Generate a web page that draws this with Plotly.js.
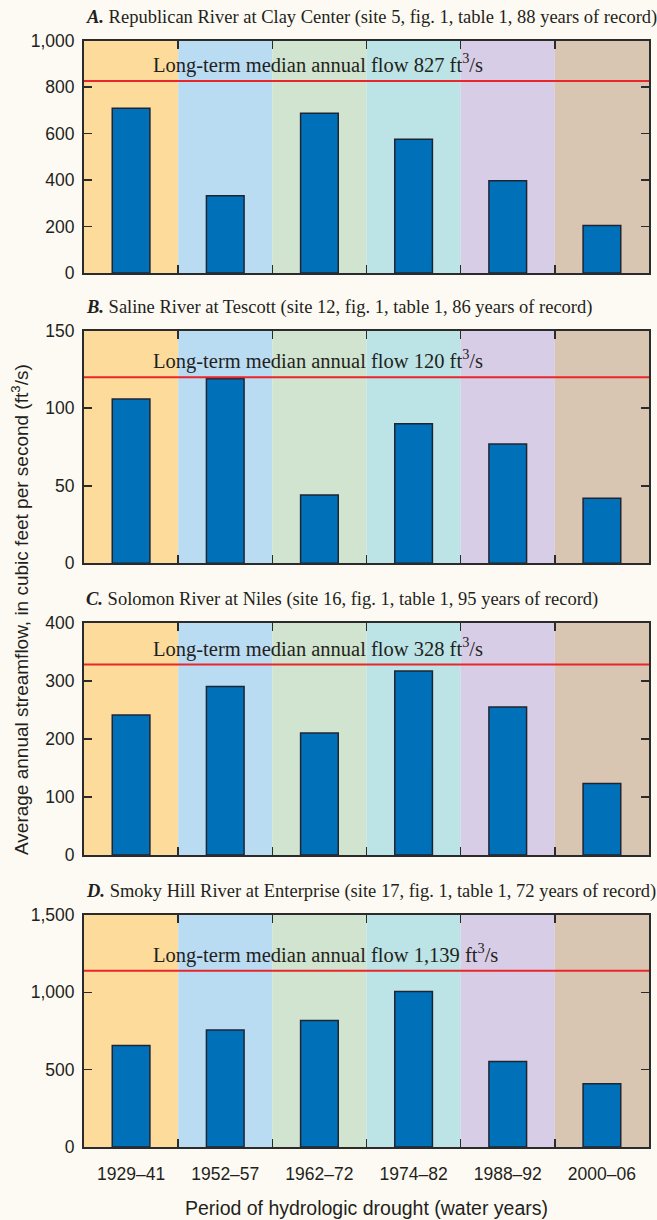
<!DOCTYPE html>
<html>
<head>
<meta charset="utf-8">
<script src="https://cdn.plot.ly/plotly-3.0.1.min.js"></script>
<style>html,body{margin:0;padding:0;background:#fdfaf3;}</style>
</head>
<body>
<div id="chart" style="width:657px;height:1220px;"></div>
<script>
// ---- data ----
const periods = ["1929–41", "1952–57", "1962–72", "1974–82", "1988–92", "2000–06"];
const republican = [709, 333, 688, 576, 397, 205];
const saline = [106, 119, 44, 90, 77, 42];
const solomon = [241, 290, 210, 317, 255, 123];
const smokyHill = [656, 757, 818, 1005, 553, 409];
const medians = [827, 120, 328, 1139];
const medianLabels = ["827", "120", "328", "1,139"];
const yMax = [1000, 150, 400, 1500];
const yStep = [200, 50, 100, 500];
const panelLetters = ["A.", "B.", "C.", "D."];
const panelTitles = [
  "Republican River at Clay Center (site 5, fig. 1, table 1, 88 years of record)",
  "Saline River at Tescott (site 12, fig. 1, table 1, 86 years of record)",
  "Solomon River at Niles (site 16, fig. 1, table 1, 95 years of record)",
  "Smoky Hill River at Enterprise (site 17, fig. 1, table 1, 72 years of record)"
];
const bandColors = ["#fddc9b", "#badcf3", "#d1e4cf", "#bce3e5", "#d8cde6", "#d8c5b2"];
const series = [republican, saline, solomon, smokyHill];

// ---- layout geometry (pixel top/bottom of each plot) ----
const H = 1220;
const plotPx = [[40.7, 273], [330.7, 563.3], [622.7, 855], [915, 1147]];

const traces = [];
const shapes = [];
const annotations = [];
const sansFamily = "Liberation Sans, Arial, sans-serif";
const serifFamily = "Liberation Serif, Times New Roman, serif";
const layout = {
  width: 657, height: H,
  margin: {l: 84, r: 8, t: 0, b: 0},
  paper_bgcolor: "#fdfaf3",
  plot_bgcolor: "#fdfaf3",
  showlegend: false,
  font: {family: sansFamily, color: "#231f20"}
};

const tickFont = {family: sansFamily, size: 17.5, color: "#231f20"};

series.forEach((vals, i) => {
  const n = i + 1;
  const xa = n === 1 ? "x" : "x" + n;
  const ya = n === 1 ? "y" : "y" + n;
  const xKey = n === 1 ? "xaxis" : "xaxis" + n;
  const yKey = n === 1 ? "yaxis" : "yaxis" + n;
  const dom = [1 - plotPx[i][1] / H, 1 - plotPx[i][0] / H];

  traces.push({
    type: "bar", x: periods, y: vals, xaxis: xa, yaxis: ya,
    width: 0.4,
    marker: {color: "#0071b9", line: {color: "#1f2433", width: 1.5}},
    hoverinfo: "x+y"
  });

  layout[xKey] = {
    domain: [0, 1], anchor: ya,
    type: "category",
    categoryarray: periods,
    range: [-0.5, 5.5],
    showline: true, linecolor: "#2b2b2b", linewidth: 2, mirror: "ticks",
    ticks: "inside", ticklen: 8, tickwidth: 1.5, tickcolor: "#2b2b2b",
    tickson: "boundaries",
    showgrid: false, zeroline: false,
    showticklabels: n === 4,
    ticklabelstandoff: 10,
    tickfont: {family: sansFamily, size: 17.5, color: "#231f20"}
  };
  if (n === 4) {
    layout[xKey].title = {
      text: "Period of hydrologic drought (water years)",
      font: {family: sansFamily, size: 19.5, color: "#231f20"},
      standoff: 18
    };
  }
  layout[yKey] = {
    domain: dom, anchor: xa,
    range: [0, yMax[i]],
    dtick: yStep[i], tick0: 0,
    tickformat: ",d",
    showline: true, linecolor: "#2b2b2b", linewidth: 2, mirror: "ticks",
    ticks: "inside", ticklen: 8, tickwidth: 1.5, tickcolor: "#2b2b2b",
    showgrid: false, zeroline: false,
    ticklabelstandoff: 4,
    tickfont: tickFont
  };

  // background bands
  periods.forEach((p, k) => {
    shapes.push({
      type: "rect", xref: xa, yref: ya + " domain",
      x0: k - 0.5, x1: k + 0.5, y0: 0, y1: 1,
      fillcolor: bandColors[k], line: {width: 0}, layer: "below"
    });
  });
  // median line
  shapes.push({
    type: "line", xref: xa + " domain", yref: ya,
    x0: 0, x1: 1, y0: medians[i], y1: medians[i],
    line: {color: "#e8262b", width: 2}, layer: "above"
  });
  annotations.push({
    xref: xa + " domain", yref: ya,
    x: 0.119, y: medians[i], xanchor: "left", yanchor: "bottom", yshift: 2,
    text: "Long-term median annual flow " + medianLabels[i] + " ft<sup>3</sup>/s",
    showarrow: false,
    font: {family: serifFamily, size: 20.5, color: "#231f20"}
  });
  // panel title
  annotations.push({
    xref: "paper", yref: "paper",
    x: 0, y: dom[1], xanchor: "left", yanchor: "bottom", yshift: 11,
    text: "<b><i>" + panelLetters[i] + "</i></b> " + panelTitles[i],
    showarrow: false,
    font: {family: serifFamily, size: 18.5, color: "#231f20"}
  });
});

// shared y-axis title
annotations.push({
  xref: "paper", yref: "paper",
  x: 0, y: 1 - 610 / H, xshift: -64, xanchor: "center", yanchor: "middle",
  textangle: -90,
  text: "Average annual streamflow, in cubic feet per second (ft<sup>3</sup>/s)",
  showarrow: false,
  font: {family: sansFamily, size: 19, color: "#231f20"}
});

layout.shapes = shapes;
layout.annotations = annotations;

Plotly.newPlot("chart", traces, layout, {displayModeBar: false, staticPlot: true});
</script>
</body>
</html>
